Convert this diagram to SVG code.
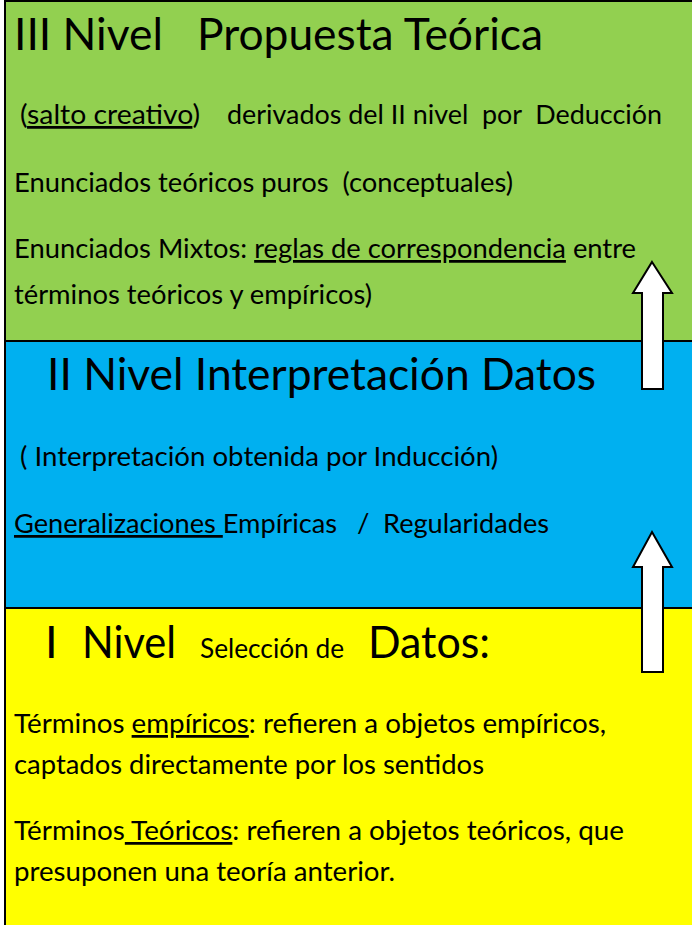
<svg xmlns="http://www.w3.org/2000/svg" width="692" height="925" viewBox="0 0 692 925">
<style>
text{font-family:Lato,"Open Sans","Liberation Sans",sans-serif;fill:#000;white-space:pre}
.t{font-size:45px}
.b{font-size:27.5px}
.u{text-decoration:underline}
.arrow{fill:#fff;stroke:#000;stroke-width:2;stroke-linejoin:miter}
</style>
<rect width="692" height="925" fill="#fff"/>
<g id="level3">
<rect x="5" y="1" width="700" height="340" fill="#92D050" stroke="#000" stroke-width="2"/>
<text class="t" x="14" y="50" textLength="529" lengthAdjust="spacingAndGlyphs">III Nivel   Propuesta Teórica</text>
<text class="b" x="20" y="124" textLength="180" lengthAdjust="spacingAndGlyphs">(<tspan class="u">salto creativo</tspan>)</text>
<text class="b" x="227" y="124" textLength="435" lengthAdjust="spacingAndGlyphs">derivados del II nivel  por  Deducción</text>
<text class="b" x="14" y="192" textLength="499" lengthAdjust="spacingAndGlyphs">Enunciados teóricos puros  (conceptuales)</text>
<text class="b" x="14" y="258" textLength="622" lengthAdjust="spacingAndGlyphs">Enunciados Mixtos: <tspan class="u">reglas de correspondencia</tspan> entre</text>
<text class="b" x="14" y="304" textLength="358" lengthAdjust="spacingAndGlyphs">términos teóricos y empíricos)</text>
</g>
<g id="level2">
<rect x="5" y="341" width="700" height="267" fill="#00B0F0" stroke="#000" stroke-width="2"/>
<text class="t" x="47" y="390" textLength="549" lengthAdjust="spacingAndGlyphs">II Nivel Interpretación Datos</text>
<text class="b" x="20" y="466" textLength="478" lengthAdjust="spacingAndGlyphs">( Interpretación obtenida por Inducción)</text>
<text class="b" x="14" y="533" textLength="323" lengthAdjust="spacingAndGlyphs"><tspan class="u">Generalizaciones </tspan>Empíricas</text>
<text class="b" x="357" y="533">/</text>
<text class="b" x="383" y="533" textLength="166" lengthAdjust="spacingAndGlyphs">Regularidades</text>
</g>
<g id="level1">
<rect x="5" y="608" width="700" height="330" fill="#FFFF00" stroke="#000" stroke-width="2"/>
<text class="t" x="45" y="658">I</text>
<text class="t" x="82" y="658" textLength="94" lengthAdjust="spacingAndGlyphs">Nivel</text>
<text x="200" y="658" font-size="26" textLength="144" lengthAdjust="spacingAndGlyphs">Selección de</text>
<text class="t" x="368" y="658" textLength="122" lengthAdjust="spacingAndGlyphs">Datos:</text>
<text class="b" x="14" y="733" textLength="592" lengthAdjust="spacingAndGlyphs">Términos <tspan class="u">empíricos</tspan>: refieren a objetos empíricos,</text>
<text class="b" x="14" y="774" textLength="470" lengthAdjust="spacingAndGlyphs">captados directamente por los sentidos</text>
<text class="b" x="14" y="840" textLength="610" lengthAdjust="spacingAndGlyphs">Términos<tspan class="u"> Teóricos</tspan>: refieren a objetos teóricos, que</text>
<text class="b" x="14" y="881" textLength="381" lengthAdjust="spacingAndGlyphs">presuponen una teoría anterior.</text>
</g>
<g id="connectors">
<polygon class="arrow" points="652,262 672,293 663,293 663,389 642,389 642,293 633,293"/>
<polygon class="arrow" points="652,532 672,567 663,567 663,672 642,672 642,567 633,567"/>
</g>
</svg>
